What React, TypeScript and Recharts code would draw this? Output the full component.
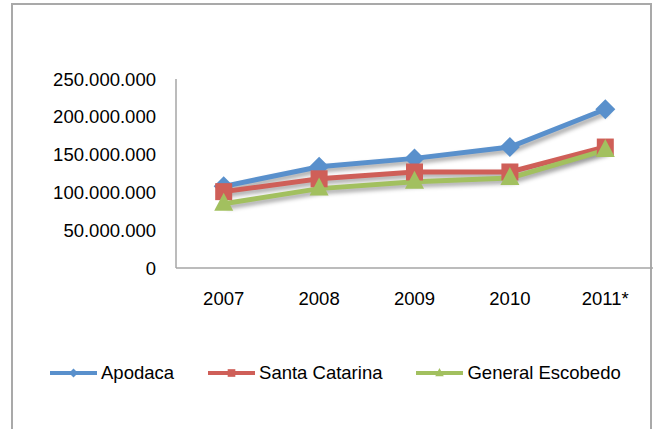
import React from 'react';
import { LineChart, Line, XAxis, YAxis, Legend } from 'recharts';

const years = ['2007', '2008', '2009', '2010', '2011*'];
const apodaca = [108000000, 134000000, 145000000, 160000000, 210000000];
const santaCatarina = [101000000, 118000000, 127000000, 127000000, 160000000];
const generalEscobedo = [85000000, 105000000, 114000000, 119000000, 156000000];
const yTicks = [0, 50000000, 100000000, 150000000, 200000000, 250000000];
const seriesOrder = ['apodaca', 'santaCatarina', 'generalEscobedo'];

const data = years.map((year, i) => ({
  year,
  apodaca: apodaca[i],
  santaCatarina: santaCatarina[i],
  generalEscobedo: generalEscobedo[i],
}));

const BLUE = '#5990CC';
const RED = '#CF5F58';
const GREEN = '#A2C05F';

const shapeOf: Record<string, string> = {
  apodaca: 'diamond',
  santaCatarina: 'square',
  generalEscobedo: 'triangle',
};

const fmt = (v: number) => String(v).replace(/\B(?=(\d{3})+(?!\d))/g, '.');

const Marker = ({ cx, cy, color, shape, scale = 1 }: any) => {
  if (cx == null || cy == null) return null;
  if (shape === 'diamond') {
    const r = 10 * scale;
    return <path d={`M${cx},${cy - r}L${cx + r},${cy}L${cx},${cy + r}L${cx - r},${cy}Z`} fill={color} />;
  }
  if (shape === 'square') {
    const r = 8.5 * scale;
    return <rect x={cx - r} y={cy - r} width={2 * r} height={2 * r} fill={color} />;
  }
  const w = 9.5 * scale;
  return <path d={`M${cx},${cy - 11 * scale}L${cx + w},${cy + 7 * scale}L${cx - w},${cy + 7 * scale}Z`} fill={color} />;
};

const makeDot = (key: string, color: string) => (p: any) => (
  <Marker key={`${key}-${p.index}`} cx={p.cx} cy={p.cy} color={color} shape={shapeOf[key]} />
);

const LegendContent = ({ payload }: any) => {
  const items = [...(payload || [])].sort(
    (a: any, b: any) => seriesOrder.indexOf(a.dataKey) - seriesOrder.indexOf(b.dataKey)
  );
  return (
    <div style={{ display: 'flex', alignItems: 'center', height: 30, paddingLeft: 50, gap: 34 }}>
      {items.map((item: any) => (
        <div key={item.dataKey} style={{ display: 'flex', alignItems: 'center' }}>
          <svg width={47} height={20}>
            <line x1={0} y1={10} x2={47} y2={10} stroke={item.color} strokeWidth={4} />
            <Marker cx={23.5} cy={10} color={item.color} shape={shapeOf[item.dataKey]} scale={0.45} />
          </svg>
          <span style={{ marginLeft: 4, fontSize: 18.5, color: '#000' }}>{item.value}</span>
        </div>
      ))}
    </div>
  );
};

export default function App() {
  return (
    <div style={{ position: 'fixed', left: 0, top: 0, width: 656, height: 429, background: '#fff', overflow: 'hidden', fontFamily: '"Liberation Sans", Arial, sans-serif' }}>
      <style>{`.series { filter: drop-shadow(3px 3px 2px rgba(0,0,0,0.35)); }`}</style>
      <div style={{ position: 'absolute', left: 11, top: 3, width: 641, height: 440, boxSizing: 'border-box', borderLeft: '2px solid #a9a9a9', borderTop: '2px solid #a9a9a9', borderRight: '2px solid #a9a9a9' }} />
      <div style={{ position: 'absolute', left: 0, top: 0 }}>
        <LineChart width={656} height={429} data={data} margin={{ top: 79, right: 3, bottom: 41, left: 0 }}>
          <XAxis
            dataKey="year"
            height={90}
            padding={{ left: 47.7, right: 47.7 }}
            axisLine={{ stroke: '#a6a6a6', strokeWidth: 1.5 }}
            tickLine={false}
            tickSize={0}
            tickMargin={24}
            tick={{ fill: '#000', fontSize: 18.5 }}
          />
          <YAxis
            width={176}
            domain={[0, 250000000]}
            ticks={yTicks}
            tickFormatter={fmt}
            axisLine={{ stroke: '#a6a6a6', strokeWidth: 1.5 }}
            tickLine={false}
            tickSize={0}
            tickMargin={20}
            tick={{ fill: '#000', fontSize: 18.5 }}
          />
          <Legend verticalAlign="bottom" align="left" height={30} content={<LegendContent />} />
          <Line className="series" dataKey="apodaca" name="Apodaca" stroke={BLUE} strokeWidth={5} dot={makeDot('apodaca', BLUE)} isAnimationActive={false} />
          <Line className="series" dataKey="santaCatarina" name="Santa Catarina" stroke={RED} strokeWidth={5} dot={makeDot('santaCatarina', RED)} isAnimationActive={false} />
          <Line className="series" dataKey="generalEscobedo" name="General Escobedo" stroke={GREEN} strokeWidth={5} dot={makeDot('generalEscobedo', GREEN)} isAnimationActive={false} />
        </LineChart>
      </div>
    </div>
  );
}
